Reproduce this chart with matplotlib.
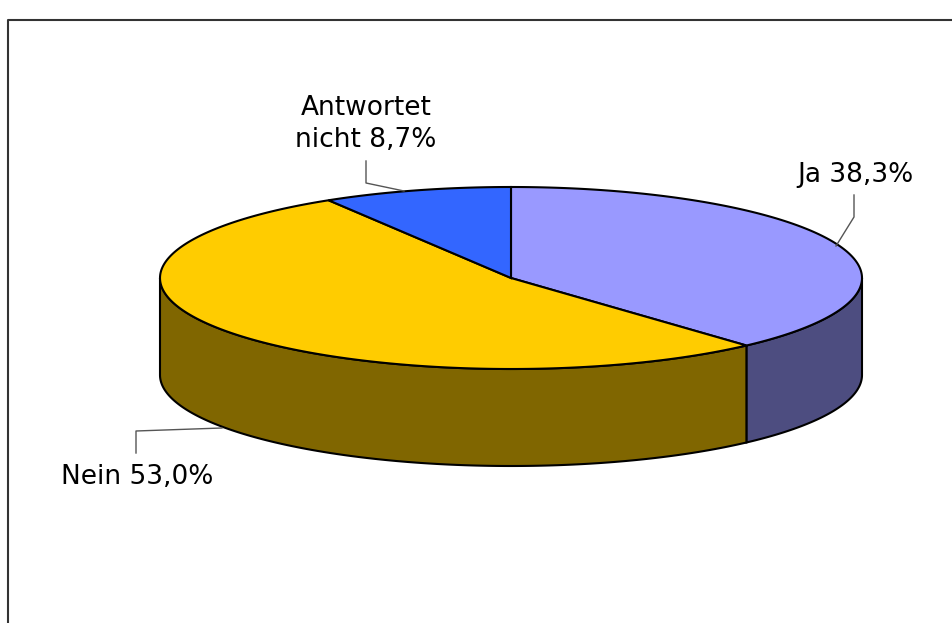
import numpy as np
import matplotlib
matplotlib.use('Agg')
import matplotlib.pyplot as plt
from matplotlib.patches import Polygon

# data
labels = ['Ja', 'Nein', 'Antwortet\nnicht']
values = [38.3, 53.0, 8.7]
top_colors = ['#9999FF', '#FFCC00', '#3366FF']
side_colors = ['#4D4D80', '#806600', '#1A3380']

# geometry of the 3d pie (pixel coords)
cx, cy = 511, 278
a, b = 351, 91
depth = 97


def arc(t1, t2, n=200, dy=0):
    t = np.radians(np.linspace(t1, t2, n))
    return np.column_stack([cx + a * np.cos(t), cy - b * np.sin(t) + dy])


fig = plt.figure(figsize=(9.53, 6.23), dpi=100)
ax = fig.add_axes([0, 0, 1, 1])
ax.set_xlim(0, 953)
ax.set_ylim(623, 0)
ax.axis('off')

total = sum(values)
angles = []
cum = 0
for v in values:
    t_start = 90 - cum / total * 360
    cum += v
    t_end = 90 - cum / total * 360
    angles.append((t_start, t_end))

# sides (front half only)
for (t_start, t_end), sc in zip(angles, side_colors):
    for f_lo, f_hi in [(-180, 0), (-540, -360)]:
        lo = max(t_end, f_lo)
        hi = min(t_start, f_hi)
        if hi <= lo:
            continue
        top = arc(hi, lo)
        bot = arc(lo, hi, dy=depth)
        ax.add_patch(Polygon(np.vstack([top, bot]), closed=True, facecolor=sc,
                             edgecolor='black', linewidth=1.5, zorder=2))

# top faces
for (t_start, t_end), tc in zip(angles, top_colors):
    pts = np.vstack([[cx, cy], arc(t_start, t_end)])
    ax.add_patch(Polygon(pts, closed=True, facecolor=tc, edgecolor='black',
                         linewidth=1.5, zorder=3))

# labels with leader lines
pct = [f'{v:.1f}'.replace('.', ',') + '%' for v in values]
lc = '#555555'
ax.plot([854, 854, 836], [195, 217, 246], color=lc, lw=1, zorder=4)
ax.text(855, 175, f'{labels[0]} {pct[0]}', ha='center', va='center', fontsize=19)

ax.plot([136, 136, 222], [453, 431, 428], color=lc, lw=1, zorder=4)
ax.text(137, 477, f'{labels[1]} {pct[1]}', ha='center', va='center', fontsize=19)

ax.plot([366, 366, 404], [161, 183, 191], color=lc, lw=1, zorder=4)
ax.text(366, 124, f'{labels[2]} {pct[2]}', ha='center', va='center', fontsize=19,
        linespacing=1.3)

# chart frame
ax.plot([8, 8, 953], [623, 20, 20], color='#333333', lw=1.5, zorder=1)

fig.savefig('out.png', dpi=100)
